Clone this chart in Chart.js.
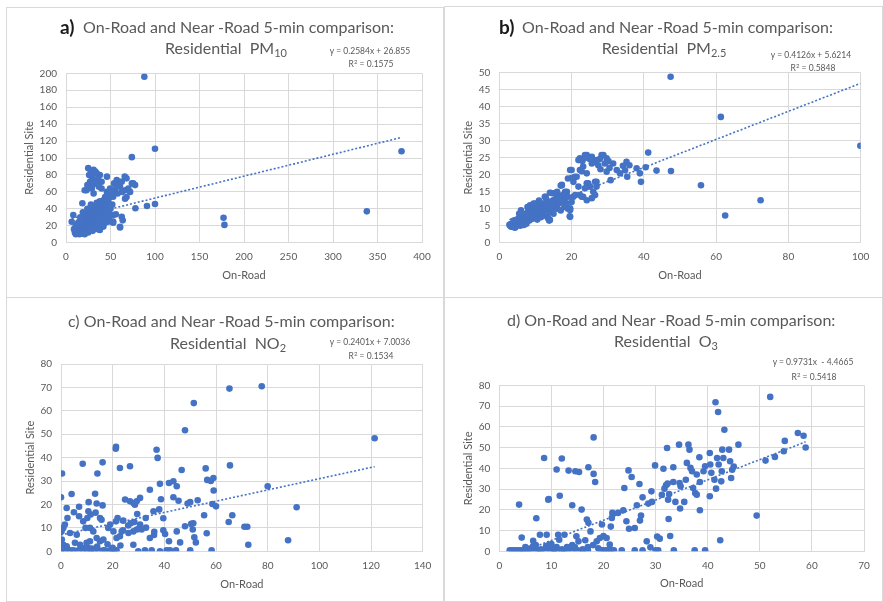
<!DOCTYPE html>
<html lang="en">
<head>
  <meta charset="UTF-8">
  <title>On-Road and Near-Road 5-min comparison</title>
  <script src="https://cdn.jsdelivr.net/npm/chart.js"></script>
  <style>
    body { margin: 0; width: 883px; height: 602px; background: #fff; position: relative; overflow: hidden; font-family: Lato, "Open Sans", sans-serif; }
    .panel { position: absolute; border: 1px solid #d9d9d9; box-sizing: border-box; }
    canvas { position: absolute; }
    .txt { position: absolute; white-space: nowrap; color: #595959; line-height: 1; }
    .t1 { font-size: 16px; transform: translateY(-50%); }
    .t2 { font-size: 16px; transform: translate(-50%, -50%); }
    .lab { font-size: 19px; color: #1a1a1a; font-weight: bold; transform: translateY(-50%); }
    .eq { font-size: 8.5px; transform: translate(-50%, -50%); }
    sub { font-size: 11px; vertical-align: -3px; line-height: 0; }
    sup { font-size: 6px; vertical-align: 3px; line-height: 0; }
  </style>
</head>
<body>
<div class="panel" style="left:6px;top:7px;width:438px;height:291px"></div>
<div class="panel" style="left:444px;top:6px;width:439px;height:292px"></div>
<div class="panel" style="left:6px;top:297px;width:438px;height:305px"></div>
<div class="panel" style="left:444px;top:297px;width:439px;height:305px"></div>

<canvas id="chartA" width="437" height="290" style="left:6px;top:7px"></canvas>
<canvas id="chartB" width="438" height="291" style="left:445px;top:6px"></canvas>
<canvas id="chartC" width="437" height="304" style="left:6px;top:298px"></canvas>
<canvas id="chartD" width="438" height="304" style="left:445px;top:298px"></canvas>

<div class="txt lab" style="left:60px;top:26px">a)</div>
<div class="txt t1" style="left:83px;top:27px">On-Road and Near -Road 5-min comparison:</div>
<div class="txt t2" style="left:226px;top:48px">Residential&nbsp; PM<sub>10</sub></div>
<div class="txt eq" style="left:370px;top:51px">y = 0.2584x + 26.855</div>
<div class="txt eq" style="left:371px;top:64px">R<sup>2</sup> = 0.1575</div>

<div class="txt lab" style="left:499px;top:26px">b)</div>
<div class="txt t1" style="left:522px;top:27px">On-Road and Near -Road 5-min comparison:</div>
<div class="txt t2" style="left:664px;top:48px">Residential&nbsp; PM<sub>2.5</sub></div>
<div class="txt eq" style="left:811px;top:55px">y = 0.4126x + 5.6214</div>
<div class="txt eq" style="left:813px;top:68px">R<sup>2</sup> = 0.5848</div>

<div class="txt t1" style="left:68px;top:321px">c) On-Road and Near -Road 5-min comparison:</div>
<div class="txt t2" style="left:228px;top:343px">Residential&nbsp; NO<sub>2</sub></div>
<div class="txt eq" style="left:370px;top:342px">y = 0.2401x + 7.0036</div>
<div class="txt eq" style="left:371px;top:356px">R<sup>2</sup> = 0.1534</div>

<div class="txt t1" style="left:507px;top:320px">d) On-Road and Near -Road 5-min comparison:</div>
<div class="txt t2" style="left:666px;top:341px">Residential&nbsp; O<sub>3</sub></div>
<div class="txt eq" style="left:813px;top:362px">y = 0.9731x &nbsp;- 4.4665</div>
<div class="txt eq" style="left:814px;top:377px">R<sup>2</sup> = 0.5418</div>

<script>
  // a) PM10
  const pm10OnRoad = [88,100,74,377,338,177,178,100,91,78,60.7,63.7,56,53,49.5,62.6,6.4,8.2,18.4,
    25,31,29,34.5,38,27,31,23,29,40,46,40,31,28,33,36,26,30,35,37,24,21,
    57,62.6,68,74,77.6,54,49.5,55,60.7,66.4,70,72,68,66.4,46,44,49.5,42,38,47.6,34.5,49.5,45.7,53,56.7,60.4,66,75.5,58,52,63,43,40,
    53,49.5,53,45.7,42,38,60.7,
    10,11,12,12,13,13,14,14,15,15,16,16,17,17,18,18,18,19,19,20,20,20,21,21,22,22,22,23,23,24,24,24,25,25,25,26,26,26,27,27,27,28,28,28,29,29,29,30,30,30,31,31,32,32,32,33,33,34,34,35,35,35,36,36,37,37,38,38,39,40,40,41,42,43,44,45,46,47,14,9,11,16,19,24,28,21,25,30,34,38,42,44,48,50,52,48,45,40,36];
  const pm10Resid = [196,111,101,108,37,29.5,21,45.7,43.3,40.6,18,26.4,33.5,23.6,31.5,30.7,24.8,32.7,46.5,
    88,86,78,82,80,72,74,62,64,64,78,72,58,84,84,76,80,68,70,66,68,62,
    74,72,76,70,68,70,64,62,66,62,64,60,54,52,60,54,54,50,49,49,47,60,50.4,54.3,66,72,78,70,58,58,60,45,44,
    32.7,25,25,24.8,19,15,18.9,
    12,10,14,18,11,22,13,16,10,20,12,25,15,18,11,22,28,14,17,12,20,25,15,30,18,22,35,13,26,20,16,30,23,18,33,27,21,38,15,24,30,19,28,34,22,26,40,17,30,36,24,28,20,33,42,26,30,35,23,28,38,45,32,25,40,30,35,44,28,38,32,42,36,46,40,44,38,48,24,16,20,30,36,40,45,10,12,14,18,22,28,32,36,40,45,26,24,20,16];

  // b) PM2.5
  const pm25OnRoad = [47.4,61.3,99.9,41.2,47.5,43.5,55.8,72.3,62.5,40.5,39.2,38.9,38,35.2,35.4,31.5,32.5,33.4,30.8,29.7,34.2,36,34.8,
    22.3,24.2,25.6,26.9,28.8,29.7,27.4,25.6,23.2,22.3,24.2,20.9,19.6,19,20.5,21.9,24.2,26.9,25.1,26.9,26,23.2,22.3,24.2,20.5,17.3,18.2,15.9,14,14.9,16.6,18.5,19.6,19.6,14,
    23.7,28.3,21.9,26.5,29.2,20,22.8,21.4,20,17.3,12.6,26.5,24.6,23.7,26.5,25.6,22.8,21,18.7,17.3,19.6,13.5,27.8,30.2,25,28,30.5,24,23,
    3,3.2,3.5,3.8,4,4.2,4.5,4.8,5,5.2,5.5,5.8,6,6,6.3,6.5,7,7,7.5,7.5,8,8,8.3,8.5,8.8,9,9,9.3,9.5,9.8,10,10,10.3,10.5,10.8,11,11,11.3,11.5,11.8,12,12,12.3,12.5,12.8,13,13,13.3,13.5,13.8,14,14,14.3,14.5,15,15,15.5,16,16,16.5,17,17,17.5,18,18,18.5,19,19,19.5,19.5,20,16,17,15,5.5,4,6.8,2.8,3.3,4.3,7.8,9.5,11,13];
  const pm25Resid = [48.8,37,28.5,26.5,21.1,21.2,16.9,12.5,8,22.2,17.9,20.4,21.9,23.8,19.4,23.3,21.4,20.4,18.4,20.9,22.6,22.8,21.3,
    24.8,25.8,25.3,24.3,25.8,24.8,22.8,23.3,22.4,21.4,20.4,19.4,21.4,18.9,17.9,16.5,17.5,17.9,16.5,16.5,15,13.5,14,12.5,13.5,16.9,15,14.5,14.7,12.5,12.5,11.6,10.1,7.6,6.7,
    25.8,25.8,24.3,23.8,23.3,21.4,21,19.4,19,17,13.5,17.9,17.5,16,14,13.1,13.5,14,15,12.5,9.6,7.2,24.6,24,24.6,21.6,22,25,24,
    5,5.5,4.8,5.2,5.8,5,4.6,6.2,5.4,7,6,5,6.5,9.5,7.8,5.8,6.8,8.5,7.2,5.6,7.5,9.2,6.5,11,8,7,9.8,8.6,10.5,7.6,8.2,11.5,9.2,6.8,10,8.6,11,9.6,7.5,10.5,9,11.5,8,10.2,13.5,9.5,11,7.6,10.5,6.5,9,12,14.6,10,11,8.5,12.5,10,13.5,11.5,12,9.5,14,10.5,12.5,11,13.5,10,9.8,7.8,12,15,16.8,14.5,8.5,6.5,5.2,5.3,4.7,4.4,10.5,11.5,12.4,12.8];

  // c) NO2
  const no2OnRoad = [121.4,77.7,65.2,51.4,48,91.2,87.9,80,72.1,71,72.5,65.4,66.3,64.9,
    56,56.6,58,59,59.1,58.6,60,55.4,56.4,52.9,50,49,50.4,51.2,51,51.6,52.2,50,58.3,
    46.7,44.8,43.5,41.8,43.5,45.5,44.8,46.1,48,41.8,
    37,37.4,38.3,38.7,38,39.6,39.6,40.3,36.1,35.8,34.4,32.8,32.9,31.2,34.4,36,29.3,30.6,29.9,32.5,35.1,38.3,40.9,42.2,44.5,
    26.7,22.8,21.3,21.2,24.8,26.7,28,28.6,29.3,30.6,29.5,28.4,28,28,24.1,21.9,21.3,19,18.3,20.3,21.5,22.8,23.5,26.1,19,20.3,21.5,
    16.1,14.1,13.2,13.8,16.1,13.4,15.1,15.7,11.5,10.6,10.2,9.5,11.2,12.5,13.8,15.1,16.4,12.9,14.5,16.4,
    8.4,10.7,7,7,8.6,5,4.1,2.2,2.5,0.9,0.2,0.4,0,1.5,3.5,6.1,5.4,7.4,9.9,11.2,8.6,10.6,0,1.5,3.5,4.8,6.7,8.6,10.2,11.5,0.9,2.2,0.3,
    17,19.5,21,24,26,27,12,14,18,20,23,30];
  const no2Resid = [48.3,70.5,69.5,63.3,51.7,18.8,4.7,27.8,10.5,10.5,2.8,36.7,15.4,12.5,
    35.4,30.5,30,31.3,26,20.2,19.2,15.4,7.7,21.8,21,20.4,11.7,12,9.3,6,3.8,0.4,0.4,
    34.7,27.8,29.9,29.2,23.1,21.6,8.5,3.8,10.7,4.3,
    43.4,39.9,28.8,22.2,17.9,14.1,9,7.4,8.3,17.1,26.3,14.2,10.1,9.3,5.7,7,9.3,11.4,0,0.4,0.4,0,0.4,0.4,0.4,
    36.3,35.6,44.6,43.8,22.1,21.4,20.6,19.9,21.4,22.8,15.9,12.5,8.5,2.8,13.1,14.2,12.8,11.4,10,8.5,5.7,6.4,8.5,7.8,0.4,0.4,0.4,
    38,33.2,24.6,20.4,19.6,16.5,14.2,13.5,15.7,17.1,14.2,10,10,8.5,5.7,4.3,5,0.4,0.4,0.4,
    37.4,21,19,15,12.8,16.7,24.5,18.5,14.2,10,8.5,33.2,23.1,11.4,7.8,7.1,3.6,2.8,3.6,4.3,1.4,1.4,0.4,0.4,0.4,0.4,0.4,0.4,0.4,0.4,2.8,2.1,5,
    0.4,0.4,0.4,9,11,12,1.2,2,3,1.5,2.5,9.5];

  // d) O3
  const o3OnRoad = [52,41.5,42,43.2,57.3,58.4,58.8,54.8,54.6,52.9,51.1,45.9,49.4,42.4,
    18.1,8.6,12,11,13.3,14.6,15.3,17.1,18.1,18.4,11.6,9.4,9.5,3.8,14,15.8,7.1,4.3,
    6.5,7.8,9.1,11.3,12.5,11.5,14.8,15.2,16.5,16.8,17.1,17.5,18.7,19.3,19.7,20,20.6,21.2,21.4,21.6,21.7,22.8,23.8,24,24.8,25.4,24.4,24.9,26,26.4,26.9,27,27.2,27.5,28.3,28.6,29.2,29,29.3,29.9,30.3,30.8,31.2,31.5,31.7,32,32.2,32.3,32.4,32.5,32.8,32.6,33.4,33.4,33.8,34.5,34.6,34.7,34.8,35.5,35.8,36,36.3,36.5,36.7,37,37.2,37.6,37.9,37.9,38.4,38.5,38.5,39.2,39.5,40.4,40.4,40.5,40.7,41.3,41.6,41.8,42.1,42.6,42.7,42.8,43,44.1,44.3,44.5,44.7,45,
    2,2.5,3,3.5,4,4.5,5,5.5,6,7,7.5,8,9,10,10.5,11,12,12.5,13,14,15,16,17,19.5,20,20.5,21,21.5,22,23.5,26,27.5,30,30.5,33.5,37.5,39.5,
    5,6,7,8,9,10,10.5,11,12,13,14,6.5,9.5,14.5,16,17,18,19];
  const o3Resid = [74.4,71.8,67.1,58.6,57,55.7,50,53.2,48.2,45.5,43.7,51.4,17.2,5.3,
    54.9,45,44.7,39.4,38.9,38.6,38.2,40.5,37.3,33.4,26.8,24.9,25.2,22.5,22.2,20.1,15.9,6.6,
    5.1,8,8,8,8,5.6,7.2,4.8,5.3,15.3,13.7,9.6,4.8,6.4,12.9,7.4,6.4,3.2,11.9,16.1,18.5,18.5,19.8,30.5,39,35.8,14.5,10.9,11.2,22.2,32.4,14.8,17.2,26,4.8,23,28.9,1.9,23.8,41.4,7.1,6.1,27.2,39.8,30.2,31.8,49.8,32.6,24.9,15.6,7.4,27.6,33.4,40.5,23.8,51.4,32.9,20.6,31.3,23.8,34.5,42.6,51.4,49,40.2,38.6,30.5,28.1,37,27.3,45.3,33.4,19.8,38.6,41,47.4,26.5,41.8,37.8,34.5,30.2,45,41.8,33.7,38.6,49,45,49,43.4,35.3,39.3,40.9,
    0.5,0.5,0.5,0.5,0.5,0.5,0.5,0.5,0.5,0.5,0.5,0.5,0.5,0.5,0.5,0.5,0.5,0.5,0.5,0.5,0.5,0.5,0.5,0.5,0.5,0.5,0.5,0.5,0.5,0.5,0.5,0.5,0.5,0.5,0.5,0.5,0.5,
    2,1.5,3,1,2.5,3.5,1,2,1,2,3,2.5,3,2,1,2,3,1.5];

  // axis ranges and tick steps [min, max, step]
  const pm10XTicks = [0, 400, 50], pm10YTicks = [0, 200, 20];
  const pm25XTicks = [0, 100, 20], pm25YTicks = [0, 50, 5];
  const no2XTicks = [0, 140, 20], no2YTicks = [0, 80, 10];
  const o3XTicks = [0, 70, 10], o3YTicks = [0, 80, 10];

  // linear trendline equations [slope, intercept]
  const pm10Trend = [0.2584, 26.855];
  const pm25Trend = [0.4126, 5.6214];
  const no2Trend = [0.2401, 7.0036];
  const o3Trend = [0.9731, -4.4665];

  const blue = '#4472c4';
  const grey = '#595959';
  const gridColor = '#d9d9d9';

  function makeChart(id, xs, ys, xt, yt, trend, box) {
    const pts = xs.map((x, i) => ({ x: x, y: ys[i] }));
    const lo = Math.min(...xs), hi = Math.max(...xs);
    const trendPts = [lo, hi].map(x => ({ x: x, y: trend[0] * x + trend[1] }));
    const ctx = document.getElementById(id).getContext('2d');
    return new Chart(ctx, {
      type: 'scatter',
      data: {
        datasets: [{
          data: pts,
          backgroundColor: blue,
          borderColor: blue,
          pointRadius: 3.3,
          pointBorderWidth: 0,
          order: 0
        }, {
          type: 'line',
          data: trendPts,
          borderColor: blue,
          borderWidth: 1.6,
          borderDash: [2, 2],
          pointRadius: 0,
          fill: false,
          order: 1
        }]
      },
      options: {
        responsive: false,
        animation: false,
        layout: { padding: box.pad },
        plugins: { legend: { display: false }, tooltip: { enabled: false } },
        scales: {
          x: {
            type: 'linear', min: xt[0], max: xt[1],
            ticks: { stepSize: xt[2], color: grey, padding: 8, font: { family: 'Lato', size: 10 } },
            grid: { color: gridColor, drawTicks: false },
            border: { color: gridColor },
            title: { display: true, text: 'On-Road', color: grey, padding: 0, font: { family: 'Lato', size: 11 } },
            afterFit: s => { s.height = box.xh; }
          },
          y: {
            type: 'linear', min: yt[0], max: yt[1],
            ticks: { stepSize: yt[2], color: grey, padding: 9, font: { family: 'Lato', size: 10 } },
            grid: { color: gridColor, drawTicks: false },
            border: { color: gridColor },
            title: { display: true, text: 'Residential Site', color: grey, padding: 0, font: { family: 'Lato', size: 11 } },
            afterFit: s => { s.width = box.yw; }
          }
        }
      }
    });
  }

  makeChart('chartA', pm10OnRoad, pm10Resid, pm10XTicks, pm10YTicks, pm10Trend,
    { pad: { left: 16.4, top: 66.3, right: 21, bottom: 15.4 }, yw: 43.6, xh: 38.9 });
  makeChart('chartB', pm25OnRoad, pm25Resid, pm25XTicks, pm25YTicks, pm25Trend,
    { pad: { left: 16.4, top: 66.7, right: 22.3, bottom: 15.4 }, yw: 37.9, xh: 38.9 });
  makeChart('chartC', no2OnRoad, no2Resid, no2XTicks, no2YTicks, no2Trend,
    { pad: { left: 17.4, top: 66, right: 20.3, bottom: 11.4 }, yw: 37.6, xh: 39.3 });
  makeChart('chartD', o3OnRoad, o3Resid, o3XTicks, o3YTicks, o3Trend,
    { pad: { left: 16.4, top: 87.3, right: 19, bottom: 11.7 }, yw: 37.9, xh: 39 });
</script>
</body>
</html>
